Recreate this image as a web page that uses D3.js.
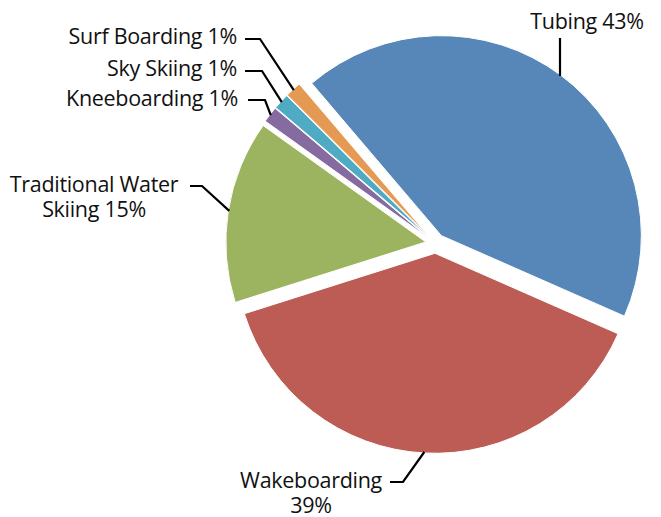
<!DOCTYPE html>
<html>
<head>
<meta charset="utf-8">
<script src="https://cdn.jsdelivr.net/npm/d3@7"></script>
<style>
  html, body { margin: 0; padding: 0; background: #fff; }
  svg { display: block; }
  text { font-family: "Open Sans", "Noto Sans", sans-serif; font-size: 21.5px; letter-spacing: -0.3px; fill: #111; }
</style>
</head>
<body>
<svg id="chart" width="661" height="517"></svg>
<script>
// ---- data ----
const categories = ["Tubing", "Wakeboarding", "Traditional Water Skiing", "Kneeboarding", "Sky Skiing", "Surf Boarding"];
const values = [42.9, 38.6, 14.8, 1.3, 1.3, 1.3];
const percentLabels = ["43%", "39%", "15%", "1%", "1%", "1%"];
const colors = ["#5687b8", "#bc5c55", "#9cb35f", "#856b9f", "#4fabc4", "#e49a52"];

// ---- layout ----
const width = 661, height = 517;
const cx = 435.5, cy = 243.5, R = 200, explode = 9.8;
const startDeg = -40.4;

// label layout: elbow point, text anchor point, lines
const labelLayout = [
  { elbow: [560, 38], hx: 560, lines: ["Tubing 43%"], tx: 587, ty: 29, anchor: "middle", vertical: true },
  { elbow: [403, 482], hx: 390, lines: ["Wakeboarding", "39%"], tx: 311, ty: 488, anchor: "middle" },
  { elbow: [202, 186], hx: 190, lines: ["Traditional Water", "Skiing 15%"], tx: 94, ty: 192, anchor: "middle" },
  { elbow: [265, 100], hx: 248, lines: ["Kneeboarding 1%"], tx: 238, ty: 106, anchor: "end" },
  { elbow: [262, 71], hx: 245, lines: ["Sky Skiing 1%"], tx: 237, ty: 76, anchor: "end" },
  { elbow: [260, 39], hx: 245, lines: ["Surf Boarding 1%"], tx: 237, ty: 44, anchor: "end" }
];
const lineGap = 25;

const svg = d3.select("#chart");
const g = svg.append("g").attr("transform", `translate(${cx},${cy})`);

const rad = d => d * Math.PI / 180;
const pie = d3.pie().sort(null).value(d => d)
  .startAngle(rad(startDeg)).endAngle(rad(startDeg) + 2 * Math.PI);
const arcs = pie(values);
const arc = d3.arc().innerRadius(0).outerRadius(R);

function offset(a) {
  const m = (a.startAngle + a.endAngle) / 2;
  return [Math.sin(m) * explode, -Math.cos(m) * explode];
}

g.selectAll("path.slice").data(arcs).join("path")
  .attr("class", "slice")
  .attr("transform", a => { const o = offset(a); return `translate(${o[0]},${o[1]})`; })
  .attr("d", arc)
  .attr("fill", (a, i) => colors[i])
  .attr("stroke", "#fff")
  .attr("stroke-width", 1);

// leader lines and labels
arcs.forEach((a, i) => {
  const L = labelLayout[i];
  const m = (a.startAngle + a.endAngle) / 2;
  const o = offset(a);
  const px = cx + o[0] + Math.sin(m) * (R - 1);
  const py = cy + o[1] - Math.cos(m) * (R - 1);
  let pts;
  if (L.vertical) {
    pts = [[L.elbow[0], py], [L.elbow[0], L.elbow[1]]];
  } else {
    pts = [[px, py], L.elbow, [L.hx, L.elbow[1]]];
  }
  svg.append("path")
    .attr("d", d3.line()(pts))
    .attr("fill", "none")
    .attr("stroke", "#000")
    .attr("stroke-width", 2.2);

  L.lines.forEach((s, k) => {
    svg.append("text")
      .attr("x", L.tx).attr("y", L.ty + k * lineGap)
      .attr("text-anchor", L.anchor)
      .text(s);
  });
});
</script>
</body>
</html>
